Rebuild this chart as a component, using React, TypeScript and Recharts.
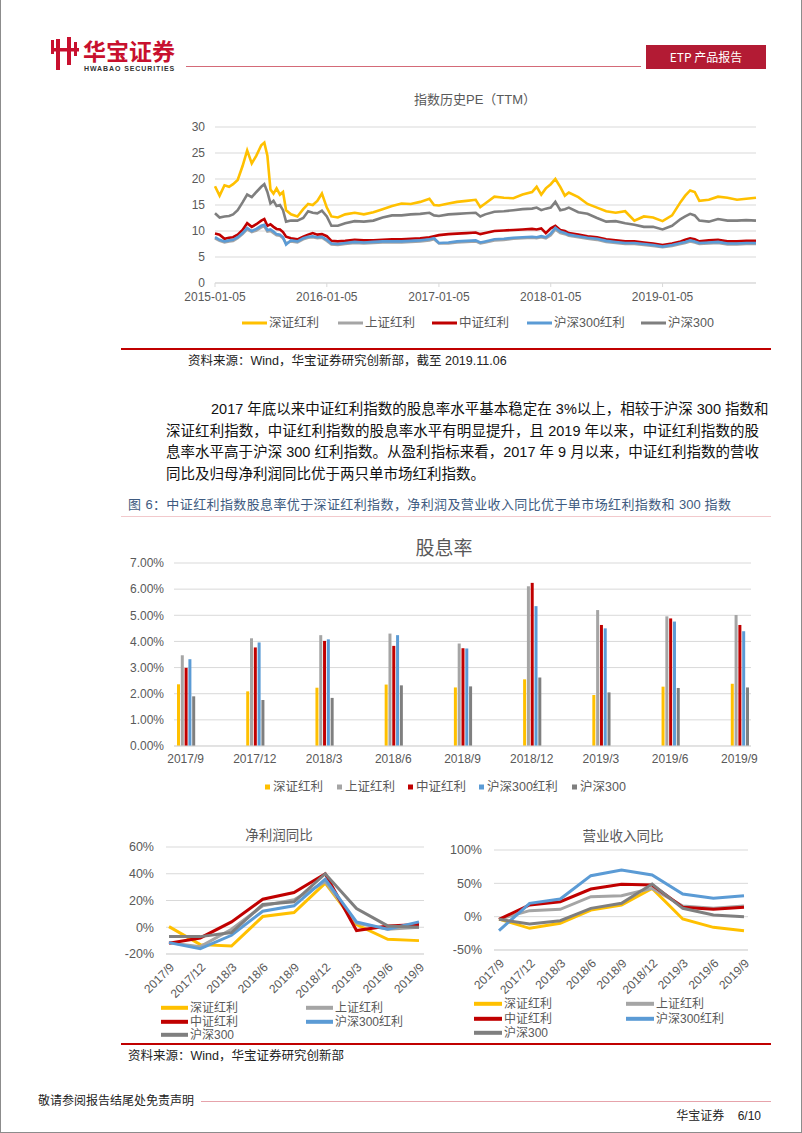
import React from 'react';
import { LineChart, Line, XAxis, YAxis, CartesianGrid, BarChart, Bar } from 'recharts';

const SANS = '"Liberation Sans", Arial, "Noto Sans CJK SC", sans-serif';
const AXIS_TEXT = '#595959';
const GRID = '#d9d9d9';

const seriesNames = ['深证红利', '上证红利', '中证红利', '沪深300红利', '沪深300'];
const seriesColors = ['#FFC000', '#A5A5A5', '#C00000', '#5B9BD5', '#7F7F7F'];
const seriesKeys = ['sz', 'sh', 'zz', 'hsd', 'hs'];

// ---------- PE (TTM) history ----------
const peDates = [
  '2015-01-05', '2015-01-20', '2015-02-05', '2015-02-20', '2015-03-05', '2015-03-20', '2015-04-05', '2015-04-20',
  '2015-05-05', '2015-05-20', '2015-06-05', '2015-06-15', '2015-06-25', '2015-07-05', '2015-07-15', '2015-07-25',
  '2015-08-05', '2015-08-15', '2015-08-25', '2015-09-10', '2015-10-01', '2015-10-20', '2015-11-05', '2015-11-20',
  '2015-12-05', '2015-12-20',
  '2016-01-05', '2016-01-20', '2016-02-10', '2016-03-05', '2016-04-05', '2016-05-05', '2016-06-05', '2016-07-05',
  '2016-08-05', '2016-09-05', '2016-10-05', '2016-11-05', '2016-12-05', '2016-12-20',
  '2017-01-05', '2017-02-05', '2017-03-05', '2017-04-05', '2017-05-05', '2017-05-20', '2017-06-05', '2017-07-05',
  '2017-08-05', '2017-09-05', '2017-10-05', '2017-11-05', '2017-11-20', '2017-12-05', '2017-12-20',
  '2018-01-05', '2018-01-20', '2018-02-05', '2018-02-20', '2018-03-05', '2018-04-05', '2018-05-05', '2018-06-05',
  '2018-07-05', '2018-08-05', '2018-09-05', '2018-10-05', '2018-11-05', '2018-12-05',
  '2019-01-05', '2019-02-05', '2019-03-05', '2019-03-20', '2019-04-05', '2019-04-20', '2019-05-05', '2019-06-05',
  '2019-07-05', '2019-08-05', '2019-09-05', '2019-10-05', '2019-11-06',
];
const peShenzhen = [
  18.6, 16.8, 18.8, 18.5, 19.0, 19.8, 22.5, 25.5, 23.0, 24.5, 26.5, 27.0, 24.5, 18.0, 17.2, 18.2, 17.0, 17.5, 14.0, 13.2, 12.8, 14.2, 15.2, 15.0, 15.8, 17.2,
  14.5, 12.8, 12.6, 13.2, 13.5, 13.2, 13.6, 14.2, 14.8, 15.3, 15.2, 15.6, 16.2, 15.0,
  14.9, 15.3, 15.6, 15.8, 16.0, 14.6, 15.3, 16.6, 16.4, 16.3, 17.0, 17.5, 18.5, 17.0, 18.2,
  19.0, 20.0, 18.5, 16.8, 17.4, 16.5, 15.2, 14.5, 13.8, 13.5, 13.8, 12.0, 12.8, 12.6,
  11.9, 13.0, 15.6, 16.8, 17.8, 17.5, 15.8, 16.0, 16.6, 16.4, 16.0, 16.2, 16.4,
];
const peShanghai = [
  8.6, 8.1, 7.8, 8.0, 8.1, 8.6, 9.4, 10.3, 9.8, 10.1, 10.7, 10.9, 9.9, 10.0, 9.6, 9.2, 9.1, 8.6, 7.6, 8.0, 7.8, 8.4, 8.7, 8.8, 8.6, 8.7,
  8.1, 7.4, 7.3, 7.5, 7.7, 7.6, 7.7, 7.8, 7.8, 7.8, 7.9, 8.0, 8.2, 8.4,
  7.6, 7.6, 7.8, 7.9, 8.0, 7.6, 7.8, 8.2, 8.3, 8.5, 8.6, 8.7, 8.6, 8.8, 8.6,
  9.2, 10.3, 9.6, 9.4, 9.1, 8.8, 8.5, 8.3, 7.9, 7.7, 7.5, 7.5, 7.3, 7.1,
  6.9, 7.1, 7.5, 7.7, 8.0, 7.8, 7.5, 7.6, 7.7, 7.4, 7.4, 7.5, 7.5,
];
const peCSI = [
  9.5, 9.3, 8.5, 8.7, 8.8, 9.3, 10.2, 11.5, 10.8, 11.3, 12.0, 12.3, 11.0, 11.3, 10.8, 10.4, 10.3, 9.8, 8.9, 8.6, 8.4, 8.9, 9.3, 9.6, 9.3, 9.4,
  9.0, 8.1, 8.0, 8.1, 8.3, 8.2, 8.2, 8.3, 8.4, 8.4, 8.5, 8.6, 8.8, 9.0,
  9.2, 9.4, 9.5, 9.6, 9.7, 9.4, 9.6, 10.0, 10.1, 10.2, 10.3, 10.4, 10.3, 10.5, 9.6,
  10.5, 11.0, 10.2, 10.0, 9.6, 9.3, 9.0, 8.8, 8.4, 8.2, 8.0, 8.0, 7.8, 7.6,
  7.3, 7.6, 8.0, 8.3, 8.6, 8.4, 8.0, 8.2, 8.3, 8.0, 8.0, 8.1, 8.1,
];
const peHS300Div = [
  8.8, 8.3, 8.0, 8.2, 8.3, 8.8, 9.6, 10.6, 10.0, 10.4, 11.0, 11.2, 10.2, 10.3, 9.9, 9.4, 9.3, 8.8, 7.4, 8.2, 8.0, 8.6, 8.9, 9.0, 8.8, 8.9,
  8.3, 7.6, 7.5, 7.7, 7.9, 7.8, 7.9, 8.0, 8.0, 8.0, 8.1, 8.2, 8.4, 8.6,
  7.7, 7.8, 8.0, 8.1, 8.2, 7.8, 8.0, 8.4, 8.5, 8.7, 8.8, 8.9, 8.8, 9.0, 8.8,
  9.5, 10.6, 9.9, 9.6, 9.3, 9.0, 8.7, 8.5, 8.1, 7.9, 7.7, 7.7, 7.5, 7.3,
  7.0, 7.3, 7.7, 7.9, 8.2, 8.0, 7.7, 7.8, 7.9, 7.6, 7.6, 7.7, 7.7,
];
const peHS300 = [
  13.4, 12.6, 12.8, 12.9, 13.2, 14.0, 15.5, 17.0, 16.5, 17.5, 18.5, 19.0, 17.5, 15.3, 15.8, 14.8, 15.0, 14.0, 11.8, 12.0, 12.0, 12.5, 13.8, 13.5, 13.4, 13.9,
  12.8, 11.0, 11.0, 11.5, 11.9, 11.8, 12.0, 12.6, 13.0, 13.0, 13.2, 13.3, 13.5, 13.0,
  12.9, 13.2, 13.3, 13.4, 13.5, 12.8, 13.2, 13.7, 13.8, 14.0, 14.2, 14.3, 14.5, 14.0, 14.3,
  14.5, 15.6, 14.0, 14.2, 14.5, 13.6, 13.3, 12.5, 11.8, 11.9, 11.5, 11.2, 10.8, 10.8,
  10.3, 11.0, 12.3, 12.8, 13.3, 13.0, 12.0, 11.8, 12.3, 12.0, 12.0, 12.1, 12.0,
];
const peTickLabels = ['2015-01-05', '2016-01-05', '2017-01-05', '2018-01-05', '2019-01-05'];
const peYTicks = [0, 5, 10, 15, 20, 25, 30];

// ---------- Dividend yield (%) ----------
const quarters = ['2017/9', '2017/12', '2018/3', '2018/6', '2018/9', '2018/12', '2019/3', '2019/6', '2019/9'];
const divShenzhen = [2.36, 2.09, 2.23, 2.35, 2.24, 2.55, 1.95, 2.27, 2.38];
const divShanghai = [3.47, 4.12, 4.24, 4.30, 3.92, 6.11, 5.20, 4.96, 5.01];
const divCSI = [2.99, 3.77, 4.02, 3.83, 3.74, 6.24, 4.63, 4.88, 4.63];
const divHS300Div = [3.32, 3.96, 4.08, 4.24, 3.73, 5.35, 4.50, 4.76, 4.39];
const divHS300 = [1.90, 1.76, 1.84, 2.32, 2.28, 2.62, 2.05, 2.22, 2.24];
const divYTicks = [0, 1, 2, 3, 4, 5, 6, 7];

// ---------- Net profit YoY (%) ----------
const profitShenzhen = [0.5, -13, -14, 8, 11, 33, 2, -9, -10];
const profitShanghai = [-11.5, -14.5, -1.5, 16, 20.5, 34, 3, -1.5, 0];
const profitCSI = [-12, -8, 4, 21, 26, 40, -2.5, 1, 2];
const profitHS300Div = [-11.5, -16, -6, 12, 16, 36, 4, -1.5, 4];
const profitHS300 = [-7, -7, -4, 17, 19, 40, 14, 1, 0];
const profitYTicks = [-20, 0, 20, 40, 60];

// ---------- Revenue YoY (%) ----------
const revShenzhen = [-3.5, -17.5, -10, 10, 17.5, 42.5, -3.5, -16, -21];
const revShanghai = [-4, 9, 11, 30, 31.5, 42.5, 16, 12.5, 16];
const revCSI = [-4, 17.5, 22.5, 41.5, 48.5, 47.5, 14, 11, 14];
const revHS300Div = [-21, 20, 26.5, 61.5, 70, 62.5, 34, 27.5, 31.5];
const revHS300 = [-4, -11, -6, 12.5, 20, 49, 12.5, 2.5, 0];
const revYTicks = [-50, 0, 50, 100];

const peData = peDates.map((d, i) => ({
  t: Date.parse(d),
  sz: peShenzhen[i], sh: peShanghai[i], zz: peCSI[i], hsd: peHS300Div[i], hs: peHS300[i],
}));
const peTicks = peTickLabels.map((d) => Date.parse(d));
const divData = quarters.map((q, i) => ({
  q, sz: divShenzhen[i], sh: divShanghai[i], zz: divCSI[i], hsd: divHS300Div[i], hs: divHS300[i],
}));
const profitData = quarters.map((q, i) => ({
  q, sz: profitShenzhen[i], sh: profitShanghai[i], zz: profitCSI[i], hsd: profitHS300Div[i], hs: profitHS300[i],
}));
const revData = quarters.map((q, i) => ({
  q, sz: revShenzhen[i], sh: revShanghai[i], zz: revCSI[i], hsd: revHS300Div[i], hs: revHS300[i],
}));

const tickStyle = { fontSize: 12, fill: AXIS_TEXT, fontFamily: SANS };

function Txt({ x, y, size, color = AXIS_TEXT, children, w, align = 'left', family = SANS, weight = 400, justify = false, lh = 1.2, ls = 0 }: any) {
  return (
    <div
      style={{
        position: 'absolute', left: x, top: y, transform: 'translateY(-50%)', fontSize: size, color,
        fontFamily: family, fontWeight: weight, lineHeight: lh, whiteSpace: 'pre', width: w, letterSpacing: ls,
        textAlign: justify ? 'justify' : align, textAlignLast: justify ? 'justify' : (align as any),
      }}
    >
      {children}
    </div>
  );
}

function HRule({ x1, x2, y, color, h = 1 }: any) {
  return <div style={{ position: 'absolute', left: x1, top: y, width: x2 - x1, height: h, background: color }} />;
}

function LineLegendItem({ x, y, i, lineW = 25, thick = 3, size = 12.5 }: any) {
  return (
    <div style={{ position: 'absolute', left: x, top: y, transform: 'translateY(-50%)', display: 'flex', alignItems: 'center' }}>
      <div style={{ width: lineW, height: thick, background: seriesColors[i], marginRight: 2 }} />
      <span style={{ fontSize: size, color: AXIS_TEXT, fontFamily: SANS, lineHeight: 1.2, whiteSpace: 'nowrap' }}>{seriesNames[i]}</span>
    </div>
  );
}

function SquareLegendItem({ x, y, i }: any) {
  return (
    <div style={{ position: 'absolute', left: x, top: y, transform: 'translateY(-50%)', display: 'flex', alignItems: 'center' }}>
      <div style={{ width: 5, height: 5, background: seriesColors[i], marginRight: 3 }} />
      <span style={{ fontSize: 12.5, color: AXIS_TEXT, fontFamily: SANS, lineHeight: 1.2, whiteSpace: 'nowrap' }}>{seriesNames[i]}</span>
    </div>
  );
}

function PEChart() {
  return (
    <div style={{ position: 'absolute', left: 170, top: 90 }}>
      <LineChart width={600} height={223} data={peData} margin={{ top: 37, right: 15, bottom: 0, left: 0 }}>
        <CartesianGrid vertical={false} stroke={GRID} />
        <XAxis
          dataKey="t" type="number" scale="time" domain={[peData[0].t, peData[peData.length - 1].t]}
          ticks={peTicks} tickFormatter={(v: number) => peTickLabels[peTicks.indexOf(v)] ?? ''}
          stroke={GRID} tickLine={{ stroke: GRID }} tickSize={4} tickMargin={5} height={30} tick={tickStyle} interval={0}
        />
        <YAxis domain={[0, 30]} ticks={peYTicks} axisLine={false} tickLine={false} width={44} tick={tickStyle} tickMargin={4} />
        {seriesKeys.map((k, i) => (
          <Line key={k} dataKey={k} stroke={seriesColors[i]} strokeWidth={2.6} dot={false} type="linear" isAnimationActive={false} />
        ))}
      </LineChart>
    </div>
  );
}

function DivChart() {
  return (
    <div style={{ position: 'absolute', left: 100, top: 535 }}>
      <BarChart width={670} height={241} data={divData} margin={{ top: 28, right: 20, bottom: 0, left: 0 }} barSize={3} barGap={0.8}>
        <CartesianGrid vertical={false} stroke={GRID} />
        <XAxis dataKey="q" stroke={GRID} tickLine={false} height={30} tick={tickStyle} interval={0} padding={{ left: -23, right: -23 }} />
        <YAxis
          domain={[0, 7]} ticks={divYTicks} axisLine={false} tickLine={false} width={73} tick={tickStyle}
          tickFormatter={(v: number) => v.toFixed(2) + '%'} tickMargin={4}
        />
        {seriesKeys.map((k, i) => (
          <Bar key={k} dataKey={k} fill={seriesColors[i]} isAnimationActive={false} />
        ))}
      </BarChart>
    </div>
  );
}

function YoYChart({ data, left, top, width, height, yWidth, domain, ticks, padding, marginRight }: any) {
  return (
    <div style={{ position: 'absolute', left, top }}>
      <LineChart width={width} height={height} data={data} margin={{ top: 20, right: marginRight, bottom: 0, left: 0 }}>
        <CartesianGrid vertical={false} stroke={GRID} />
        <XAxis
          dataKey="q" stroke={GRID} tickLine={false} height={50} interval={0} angle={-45} textAnchor="end"
          tick={{ ...tickStyle, fontSize: 12 }} padding={padding}
        />
        <YAxis
          domain={domain} ticks={ticks} axisLine={false} tickLine={false} width={yWidth}
          tick={{ ...tickStyle, fontSize: 12.5 }} tickFormatter={(v: number) => v + '%'} tickMargin={6}
        />
        {seriesKeys.map((k, i) => (
          <Line key={k} dataKey={k} stroke={seriesColors[i]} strokeWidth={3} dot={false} type="linear" isAnimationActive={false} />
        ))}
      </LineChart>
    </div>
  );
}

function Logo() {
  return (
    <svg style={{ position: 'absolute', left: 48, top: 36 }} width={34} height={36} viewBox="0 0 34 36">
      <rect x={7} y={3} width={4} height={31} fill="#c8102e" />
      <rect x={18} y={1} width={4} height={28} fill="#c8102e" />
      <rect x={2} y={12} width={28} height={3.5} fill="#c8102e" />
      <rect x={2} y={4} width={3} height={14} fill="#c8102e" />
      <rect x={25} y={6} width={3} height={14} fill="#c8102e" />
    </svg>
  );
}

export default function App() {
  return (
    <div
      style={{
        position: 'absolute', left: 0, top: 0, width: 802, height: 1133, background: '#fff', overflow: 'hidden',
        boxSizing: 'border-box', borderLeft: '1px solid #8c8c8c', borderRight: '1px solid #8c8c8c', borderBottom: '1px solid #8c8c8c',
      }}
    >
      {/* header */}
      <Logo />
      <Txt x={82} y={49.5} size={23} color="#c8102e" weight={700} lh={1} family={'"Noto Sans CJK SC", sans-serif'}>华宝证券</Txt>
      <Txt x={83} y={67.5} size={7} color="#333" weight={700} lh={1} ls={0.9}>HWABAO SECURITIES</Txt>
      <HRule x1={185} x2={640} y={66} color="#d46a78" />
      <div style={{ position: 'absolute', left: 645, top: 45, width: 120, height: 24, background: '#b31b34' }} />
      <Txt x={645} y={57} w={120} align="center" size={12} color="#fff" family={'"Noto Sans CJK SC", sans-serif'}>ETP 产品报告</Txt>

      {/* PE chart */}
      <Txt x={384} y={100} w={180} align="center" size={13}>指数历史PE（TTM）</Txt>
      <PEChart />
      <LineLegendItem x={241} y={323} i={0} />
      <LineLegendItem x={337} y={323} i={1} />
      <LineLegendItem x={431} y={323} i={2} />
      <LineLegendItem x={526} y={323} i={3} />
      <LineLegendItem x={640} y={323} i={4} />
      <HRule x1={120} x2={770} y={348} color="#c00000" h={1.5} />
      <Txt x={187} y={361} size={12.5} color="#222" family={'"Liberation Sans", "Noto Sans CJK SC", sans-serif'}>资料来源：Wind，华宝证券研究创新部，截至 2019.11.06</Txt>

      {/* paragraph */}
      <Txt x={210} y={410} w={548} justify size={14.5} color="#111">2017 年底以来中证红利指数的股息率水平基本稳定在 3%以上，相较于沪深 300 指数和</Txt>
      <Txt x={165} y={432} w={593} justify size={14.5} color="#111">深证红利指数，中证红利指数的股息率水平有明显提升，且 2019 年以来，中证红利指数的股</Txt>
      <Txt x={165} y={453} w={593} justify size={14.5} color="#111">息率水平高于沪深 300 红利指数。从盈利指标来看，2017 年 9 月以来，中证红利指数的营收</Txt>
      <Txt x={165} y={475} size={14.5} color="#111">同比及归母净利润同比优于两只单市场红利指数。</Txt>

      {/* caption */}
      <Txt x={127} y={505} w={603} justify size={13} color="#3e5a80">图 6：中证红利指数股息率优于深证红利指数，净利润及营业收入同比优于单市场红利指数和 300 指数</Txt>
      <HRule x1={120} x2={770} y={516} color="#f2c9cc" />

      {/* dividend chart */}
      <Txt x={393} y={549} w={100} align="center" size={19}>股息率</Txt>
      <DivChart />
      <SquareLegendItem x={264} y={787} i={0} />
      <SquareLegendItem x={336} y={787} i={1} />
      <SquareLegendItem x={407} y={787} i={2} />
      <SquareLegendItem x={478} y={787} i={3} />
      <SquareLegendItem x={571} y={787} i={4} />

      {/* net profit YoY */}
      <Txt x={228} y={836} w={100} align="center" size={13.5}>净利润同比</Txt>
      <YoYChart
        data={profitData} left={110} top={827} width={330} height={177} yWidth={55} domain={[-20, 60]}
        ticks={profitYTicks} padding={{ left: 3, right: 5 }} marginRight={17}
      />
      <LineLegendItem x={160} y={1008} i={0} lineW={27} thick={3.5} size={12} />
      <LineLegendItem x={305} y={1008} i={1} lineW={27} thick={3.5} size={12} />
      <LineLegendItem x={160} y={1022} i={2} lineW={27} thick={3.5} size={12} />
      <LineLegendItem x={305} y={1022} i={3} lineW={27} thick={3.5} size={12} />
      <LineLegendItem x={160} y={1035} i={4} lineW={27} thick={3.5} size={12} />

      {/* revenue YoY */}
      <Txt x={562} y={837} w={120} align="center" size={13.5}>营业收入同比</Txt>
      <YoYChart
        data={revData} left={430} top={830} width={340} height={170} yWidth={63} domain={[-50, 100]}
        ticks={revYTicks} padding={{ left: 5, right: 4 }} marginRight={23}
      />
      <LineLegendItem x={473} y={1004} i={0} lineW={28} thick={3.5} size={12} />
      <LineLegendItem x={625} y={1004} i={1} lineW={28} thick={3.5} size={12} />
      <LineLegendItem x={473} y={1019} i={2} lineW={28} thick={3.5} size={12} />
      <LineLegendItem x={625} y={1019} i={3} lineW={28} thick={3.5} size={12} />
      <LineLegendItem x={473} y={1033} i={4} lineW={28} thick={3.5} size={12} />

      <HRule x1={120} x2={770} y={1043} color="#c00000" h={1.5} />
      <Txt x={127} y={1056} size={12.5} color="#222">资料来源：Wind，华宝证券研究创新部</Txt>

      {/* footer */}
      <Txt x={37} y={1101} size={12} color="#222">敬请参阅报告结尾处免责声明</Txt>
      <HRule x1={200} x2={770} y={1101} color="#e6a3ab" />
      <Txt x={640} y={1116} w={120} align="right" size={12} color="#222">{'华宝证券    6/10'}</Txt>
    </div>
  );
}
